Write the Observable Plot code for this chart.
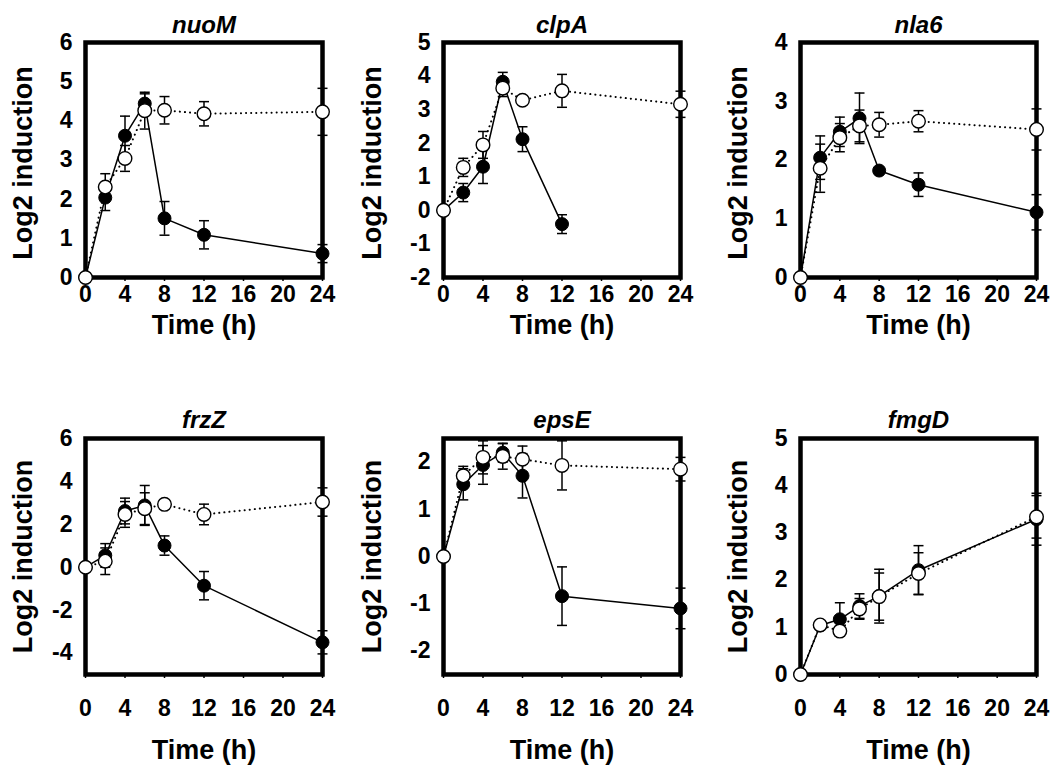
<!DOCTYPE html>
<html><head><meta charset="utf-8">
<script src="https://cdn.jsdelivr.net/npm/d3@7"></script>
<script src="https://cdn.jsdelivr.net/npm/@observablehq/plot@0.6"></script>
<style>
body{margin:0;background:#fff;}
#wrap{position:relative;width:1050px;height:771px;overflow:hidden;background:#fff;}
#wrap svg{position:absolute;overflow:visible;}
</style></head><body><div id="wrap"></div>
<script>
// ---------- data ----------
const times = [0, 2, 4, 6, 8, 12, 24];
const timeTicks = [0, 4, 8, 12, 16, 20, 24];
const genes = ["nuoM", "clpA", "nla6", "frzZ", "epsE", "fmgD"];

// filled circles, solid line
const nuoM_filled    = [0, 2.04, 3.62, 4.44, 1.51, 1.09, 0.61];
const nuoM_filledErr = [0, 0.33, 0.50, 0.25, 0.43, 0.36, 0.23];
// open circles, dotted line
const nuoM_open      = [0, 2.31, 3.04, 4.26, 4.27, 4.18, 4.23];
const nuoM_openErr   = [0, 0.34, 0.33, 0.47, 0.35, 0.31, 0.60];

const clpA_filled    = [0, 0.53, 1.30, 3.83, 2.12, -0.41, null];
const clpA_filledErr = [0, 0.27, 0.50, 0.28, 0.37, 0.28, null];
const clpA_open      = [0, 1.28, 1.95, 3.64, 3.28, 3.56, 3.16];
const clpA_openErr   = [0, 0.27, 0.40, 0.25, 0.05, 0.49, 0.39];

const nla6_filled    = [0, 2.04, 2.48, 2.71, 1.82, 1.58, 1.11];
const nla6_filledErr = [0, 0.37, 0.25, 0.43, 0.05, 0.20, 0.30];
const nla6_open      = [0, 1.86, 2.38, 2.58, 2.60, 2.66, 2.52];
const nla6_openErr   = [0, 0.41, 0.24, 0.27, 0.21, 0.18, 0.35];

const frzZ_filled    = [0, 0.55, 2.62, 2.88, 1.01, -0.86, -3.50];
const frzZ_filledErr = [0, 0.55, 0.60, 0.93, 0.45, 0.66, 0.54];
const frzZ_open      = [0, 0.28, 2.46, 2.73, 2.93, 2.46, 3.04];
const frzZ_openErr   = [0, 0.62, 0.60, 0.74, 0.05, 0.48, 0.66];

const epsE_filled    = [0, 1.53, 1.94, 2.20, 1.71, -0.84, -1.10];
const epsE_filledErr = [0, 0.33, 0.41, 0.20, 0.47, 0.62, 0.43];
const epsE_open      = [0, 1.71, 2.10, 2.12, 2.06, 1.93, 1.85];
const epsE_openErr   = [0, 0.20, 0.35, 0.27, 0.28, 0.52, 0.25];

const fmgD_filled    = [0, 1.04, 1.17, 1.45, 1.66, 2.21, 3.29];
const fmgD_filledErr = [0, 0.05, 0.35, 0.26, 0.57, 0.52, 0.55];
const fmgD_open      = [0, 1.05, 0.92, 1.39, 1.65, 2.14, 3.34];
const fmgD_openErr   = [0, 0.05, 0.10, 0.22, 0.50, 0.44, 0.45];

const yDomains = [[0, 6], [-2, 5], [0, 4], [-5, 6], [-2.5, 2.5], [0, 5]];
const yTicks = [
  [0, 1, 2, 3, 4, 5, 6],
  [-2, -1, 0, 1, 2, 3, 4, 5],
  [0, 1, 2, 3, 4],
  [-4, -2, 0, 2, 4, 6],
  [-2, -1, 0, 1, 2],
  [0, 1, 2, 3, 4, 5]
];
const yLabel = "Log2 induction";
const xLabel = "Time (h)";

const series = {
  nuoM: [nuoM_filled, nuoM_filledErr, nuoM_open, nuoM_openErr],
  clpA: [clpA_filled, clpA_filledErr, clpA_open, clpA_openErr],
  nla6: [nla6_filled, nla6_filledErr, nla6_open, nla6_openErr],
  frzZ: [frzZ_filled, frzZ_filledErr, frzZ_open, frzZ_openErr],
  epsE: [epsE_filled, epsE_filledErr, epsE_open, epsE_openErr],
  fmgD: [fmgD_filled, fmgD_filledErr, fmgD_open, fmgD_openErr]
};

// ---------- layout ----------
const cols = [
  {left: 0,   ml: 85,  mr: 28, ylabDx: -62},
  {left: 350, ml: 93,  mr: 20, ylabDx: -71},
  {left: 700, ml: 100, mr: 14, ylabDx: -62}
];
const rows = [
  {top: 0,   h: 380, mt: 42, mb: 103, titleDy: -27, xlabDy: 56, xPad: 4,  ylabDy: 3},
  {top: 380, h: 391, mt: 58, mb: 97,  titleDy: -28, xlabDy: 84, xPad: 21, ylabDy: 0}
];
const FONT = "'Liberation Sans', Arial, Helvetica, sans-serif";
const fmt = d => String(d);

const capSymbol = {
  draw(ctx, size) {
    const w = Math.sqrt(size / Math.PI);
    ctx.moveTo(-w, 0);
    ctx.lineTo(w, 0);
  }
};

function toRows(vals, errs) {
  return times.map((t, i) => ({t, v: vals[i], e: errs[i]})).filter(d => d.v != null);
}

const wrap = document.getElementById("wrap");

genes.forEach((g, i) => {
  const col = cols[i % 3], row = rows[Math.floor(i / 3)];
  const [fv, fe, ov, oe] = series[g];
  const filled = toRows(fv, fe);
  const open = toRows(ov, oe);
  const fErr = filled.filter(d => d.e > 0);
  const oErr = open.filter(d => d.e > 0);

  const chart = Plot.plot({
    width: 350,
    height: row.h,
    marginLeft: col.ml,
    marginRight: col.mr,
    marginTop: row.mt,
    marginBottom: row.mb,
    style: {fontFamily: FONT, color: "black", background: "transparent", overflow: "visible"},
    x: {domain: [0, 24]},
    y: {domain: yDomains[i]},
    marks: [
      Plot.frame({stroke: "black", strokeWidth: 4.5}),
      Plot.axisX({ticks: timeTicks, tickFormat: fmt, tickSize: 4, tickPadding: row.xPad, fontSize: 23, fontWeight: "bold", label: null, strokeWidth: 1.5}),
      Plot.axisY({ticks: yTicks[i], tickFormat: fmt, tickSize: 0, tickPadding: 13, fontSize: 23, fontWeight: "bold", label: null}),
      Plot.line(filled, {x: "t", y: "v", stroke: "black", strokeWidth: 1.5}),
      Plot.line(open, {x: "t", y: "v", stroke: "black", strokeWidth: 2, strokeDasharray: "0.1,5", strokeLinecap: "round"}),
      Plot.ruleX(fErr, {x: "t", y1: d => d.v - d.e, y2: d => d.v + d.e, stroke: "black", strokeWidth: 1.5}),
      Plot.dot(fErr, {x: "t", y: d => d.v - d.e, symbol: capSymbol, r: 5, stroke: "black", strokeWidth: 1.5, fill: "none"}),
      Plot.dot(fErr, {x: "t", y: d => d.v + d.e, symbol: capSymbol, r: 5, stroke: "black", strokeWidth: 1.5, fill: "none"}),
      Plot.dot(filled, {x: "t", y: "v", r: 6.5, fill: "black", stroke: "black", strokeWidth: 1}),
      Plot.ruleX(oErr, {x: "t", y1: d => d.v - d.e, y2: d => d.v + d.e, stroke: "black", strokeWidth: 1.5}),
      Plot.dot(oErr, {x: "t", y: d => d.v - d.e, symbol: capSymbol, r: 5, stroke: "black", strokeWidth: 1.5, fill: "none"}),
      Plot.dot(oErr, {x: "t", y: d => d.v + d.e, symbol: capSymbol, r: 5, stroke: "black", strokeWidth: 1.5, fill: "none"}),
      Plot.dot(open, {x: "t", y: "v", r: 6.8, fill: "white", stroke: "black", strokeWidth: 1.4}),
      Plot.text([g], {text: d => d, frameAnchor: "top", dy: row.titleDy, fontSize: 24, fontWeight: "bold", fontStyle: "italic", fill: "black"}),
      Plot.text([yLabel], {text: d => d, frameAnchor: "left", textAnchor: "middle", rotate: -90, dx: col.ylabDx, dy: row.ylabDy, fontSize: 27, fontWeight: "bold", fill: "black"}),
      Plot.text([xLabel], {text: d => d, frameAnchor: "bottom", dy: row.xlabDy, fontSize: 27, fontWeight: "bold", fill: "black"})
    ]
  });
  chart.style.left = col.left + "px";
  chart.style.top = row.top + "px";
  wrap.appendChild(chart);
});
</script>
</body></html>
